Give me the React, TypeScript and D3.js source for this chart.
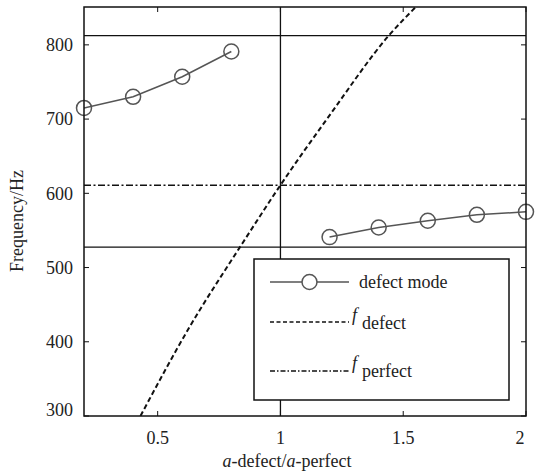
import React from "react";
import * as d3 from "d3";

const ratioLeft = [0.2, 0.4, 0.6, 0.8];
const freqLeft = [715, 730, 757, 791];
const ratioRight = [1.2, 1.4, 1.6, 1.8, 2.0];
const freqRight = [541, 554, 563, 571, 575];
const defectRatio = [0.43, 0.63, 0.84, 1.0, 1.2, 1.44, 1.56];
const defectFreq = [300, 420, 530, 611, 705, 812, 854];
const perfectFreq = 611;
const bandTop = 812.5;
const bandBottom = 527.5;
const xTicks = [0.5, 1, 1.5, 2];
const yTicks = [300, 400, 500, 600, 700, 800];

const W = 539, H = 473;
const L = 84, R = 526, T = 7, B = 416;
const FONT = "'Times New Roman', 'Liberation Serif', 'DejaVu Serif', serif";

export default function App() {
  const x = d3.scaleLinear().domain([0.2, 2]).range([L, R]);
  const y = d3.scaleLinear().domain([300, 851]).range([B, T]);
  const line = d3.line<[number, number]>().x(d => x(d[0])).y(d => y(d[1]));
  const curve = d3.line<[number, number]>().x(d => x(d[0])).y(d => y(d[1])).curve(d3.curveMonotoneX);
  const leftPts = ratioLeft.map((r, i) => [r, freqLeft[i]] as [number, number]);
  const rightPts = ratioRight.map((r, i) => [r, freqRight[i]] as [number, number]);
  const defPts = defectRatio.map((r, i) => [r, defectFreq[i]] as [number, number]);
  const gray = "#555";
  const tl = 5;
  const ts: React.CSSProperties = { fontFamily: FONT, fontSize: 18 };
  return (
    <svg width={W} height={H} style={{ position: "absolute", left: 0, top: 0, background: "#fff", fontFamily: FONT }}>
      <defs>
        <clipPath id="plot"><rect x={L} y={T} width={R - L} height={B - T} /></clipPath>
      </defs>
      <rect x={0} y={0} width={W} height={H} fill="#fff" />
      <g clipPath="url(#plot)">
        <line x1={L} x2={R} y1={y(bandTop)} y2={y(bandTop)} stroke="#111" strokeWidth={1.3} />
        <line x1={L} x2={R} y1={y(bandBottom)} y2={y(bandBottom)} stroke="#111" strokeWidth={1.3} />
        <line x1={x(1)} x2={x(1)} y1={T} y2={B} stroke="#111" strokeWidth={1.3} />
        <line x1={L} x2={R} y1={y(perfectFreq)} y2={y(perfectFreq)} stroke="#111" strokeWidth={1.5} strokeDasharray="7,2.5,2,2.5" />
        <path d={curve(defPts) || ""} fill="none" stroke="#111" strokeWidth={2} strokeDasharray="5,3" />
        <path d={line(leftPts) || ""} fill="none" stroke={gray} strokeWidth={1.5} />
        <path d={line(rightPts) || ""} fill="none" stroke={gray} strokeWidth={1.5} />
      </g>
      {[...leftPts, ...rightPts].map((p, i) => (
        <circle key={i} cx={x(p[0])} cy={y(p[1])} r={7.5} fill="none" stroke={gray} strokeWidth={1.5} />
      ))}
      {xTicks.map(t => (
        <g key={"x" + t}>
          <line x1={x(t)} x2={x(t)} y1={B} y2={B - tl} stroke="#111" strokeWidth={1} />
          <line x1={x(t)} x2={x(t)} y1={T} y2={T + tl} stroke="#111" strokeWidth={1} />
          <text x={x(t) - (t === 2 ? 6 : 0)} y={444} textAnchor="middle" style={ts} fill="#222">{t}</text>
        </g>
      ))}
      {yTicks.map(t => (
        <g key={"y" + t}>
          <line x1={L} x2={L + tl} y1={y(t)} y2={y(t)} stroke="#111" strokeWidth={1} />
          <line x1={R} x2={R - tl} y1={y(t)} y2={y(t)} stroke="#111" strokeWidth={1} />
          <text x={73} y={y(t) - (t === 300 ? 6 : 0)} dy="0.35em" textAnchor="end" style={ts} fill="#222">{t}</text>
        </g>
      ))}
      <rect x={L} y={T} width={R - L} height={B - T} fill="none" stroke="#111" strokeWidth={1.5} />
      <g>
        <rect x={254} y={259} width={255} height={141} fill="#fff" stroke="#111" strokeWidth={1.5} />
        <line x1={270} x2={349} y1={282} y2={282} stroke={gray} strokeWidth={1.5} />
        <circle cx={309.5} cy={282} r={7.5} fill="#fff" stroke={gray} strokeWidth={1.5} />
        <text x={359} y={288} style={ts} fill="#222">defect mode</text>
        <line x1={270} x2={349} y1={322} y2={322} stroke="#111" strokeWidth={1.5} strokeDasharray="4,2.5" />
        <text x={352} y={321} style={{ ...ts, fontStyle: "italic" }} fill="#222">f</text>
        <text x={362} y={329} style={ts} fill="#222">defect</text>
        <line x1={270} x2={349} y1={371} y2={371} stroke="#111" strokeWidth={1.5} strokeDasharray="5,2,1.5,2" />
        <text x={352} y={369} style={{ ...ts, fontStyle: "italic" }} fill="#222">f</text>
        <text x={362} y={377} style={ts} fill="#222">perfect</text>
      </g>
      <text x={287} y={467} textAnchor="middle" style={ts} fill="#222">
        <tspan fontStyle="italic">a</tspan>-defect/<tspan fontStyle="italic">a</tspan>-perfect
      </text>
      <text transform={`translate(23, 221) rotate(-90)`} textAnchor="middle" style={ts} fill="#222">Frequency/Hz</text>
    </svg>
  );
}
